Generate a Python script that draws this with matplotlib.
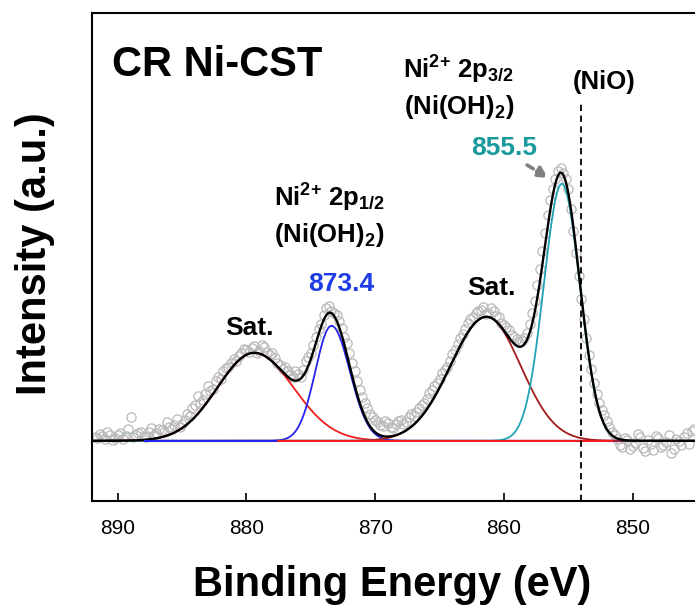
import numpy as np
import matplotlib
matplotlib.use("Agg")
import matplotlib.pyplot as plt

plt.rcParams['font.family'] = ['Liberation Sans', 'DejaVu Sans']
plt.rcParams['mathtext.fontset'] = 'custom'
plt.rcParams['mathtext.bf'] = 'Liberation Sans:bold'
plt.rcParams['mathtext.rm'] = 'Liberation Sans:bold'
plt.rcParams['mathtext.default'] = 'bf'

# ---------------- data ----------------
energy_start = 891.8   # eV, first measured point
energy_step = 0.2      # eV
raw_intensity = [
    4, 3, 7, 5, 2, 9, 6, 1, 3, 6,
    8, 2, 5, 12, 24, 4, 6, 8, 9, 5,
    4, 9, 13, 6, 8, 12, 11, 9, 19, 14,
    12, 16, 22, 14, 17, 21, 27, 25, 33, 36,
    45, 38, 41, 47, 55, 50, 52, 60, 64, 62,
    70, 73, 74, 78, 82, 80, 85, 88, 92, 91,
    89, 93, 95, 88, 90, 96, 94, 89, 86, 88,
    83, 78, 76, 72, 74, 70, 66, 64, 70, 67,
    64, 71, 80, 84, 88, 96, 104, 112, 117, 126,
    133, 135, 130, 128, 126, 120, 113, 104, 98, 88,
    78, 70, 60, 51, 44, 38, 33, 27, 24, 21,
    19, 16, 15, 20, 18, 14, 13, 17, 20, 21,
    17, 19, 24, 27, 25, 29, 33, 36, 38, 42,
    48, 51, 55, 58, 62, 68, 71, 74, 80, 87,
    91, 97, 103, 107, 112, 118, 122, 124, 128, 130,
    131, 134, 127, 128, 133, 130, 125, 124, 118, 116,
    114, 111, 106, 104, 102, 99, 100, 103, 108, 117,
    128, 140, 156, 172, 190, 208, 226, 241, 252, 262,
    270, 273, 268, 262, 252, 232, 210, 188, 165, 142,
    122, 103, 86, 72, 58, 47, 38, 31, 26, 20,
    14, 9, 6, 2, -4, -6, 3, 1, -8, -5,
    -2, 7, 4, -7, -10, 1, -3, -9, 5, 3,
    -6, -4, -1, 6, -12, -8, 2, 0, -4, 4,
    8, -3, 10, 12,
]

# fitted components (split-Gaussian parameters)
peak_labels = ["Sat. (2p1/2)", "Ni2+ 2p1/2", "Sat. (2p3/2)", "Ni2+ 2p3/2"]
peak_centers = [879.4, 873.4, 861.35, 855.5]
peak_heights = [88, 115, 124, 257]
peak_sigma_high = [2.85, 1.25, 2.8, 1.4]   # width on the high-BE side
peak_sigma_low = [3.05, 1.43, 2.65, 1.4]   # width on the low-BE side
peak_colors = ["#f01e1e", "#2424ec", "#a31a1a", "#1fa4b6"]

# background line segments (start, end, colour)
baseline_start = [888.0, 877.6]
baseline_end = [877.6, 851.5]
baseline_colors = ["#2424ec", "#f01e1e"]

nio_position = 854.0
xticks = [890, 880, 870, 860, 850]

# ---------------- figure ----------------
fig = plt.figure(figsize=(6.95, 6.10), dpi=100)
ax = fig.add_axes([0.1328, 0.1795, 0.8672, 0.800])

binding_energy = energy_start - energy_step * np.arange(len(raw_intensity))
grid = np.linspace(892.0, 845.1, 1500)


def split_gauss(x, c, h, sh, sl):
    s = np.where(x >= c, sh, sl)
    return h * np.exp(-(x - c) ** 2 / (2 * s ** 2))


ax.plot(binding_energy, raw_intensity, linestyle='none', marker='o',
        mfc='none', mec='#b8b8b8', ms=6.6, mew=0.9, zorder=1)

envelope = np.zeros_like(grid)
for c, h, sh, sl, col in zip(peak_centers, peak_heights, peak_sigma_high,
                             peak_sigma_low, peak_colors):
    comp = split_gauss(grid, c, h, sh, sl)
    envelope += comp
    ax.plot(grid, comp, color=col, lw=1.3, zorder=2)

ax.plot(grid, envelope, color='black', lw=1.7, zorder=3)

for xs, xe, col in zip(baseline_start, baseline_end, baseline_colors):
    ax.plot([xs, xe], [0, 0], color=col, lw=1.5, zorder=4, solid_capstyle='butt')

ax.vlines(nio_position, -60, 340, colors='black', linestyles=(0, (3.5, 2.5)),
          lw=1.3, zorder=5)

ax.set_xlim(891.98, 845.15)
ax.set_ylim(-59.7, 428.3)
ax.set_xticks(xticks)
ax.set_xticklabels([str(t) for t in xticks], fontsize=15)
ax.tick_params(axis='x', direction='in', length=6, width=1.2, pad=13.5)
ax.set_yticks([])
ax.spines['right'].set_visible(False)
for sp in ['left', 'bottom', 'top']:
    ax.spines[sp].set_linewidth(1.5)

# labels
ax.text(890.44, 364.8, "CR Ni-CST", fontsize=30, fontweight='bold', va='baseline')
ax.text(867.82, 362.5, r"Ni$^{2{+}}$ 2p$_{3/2}$", fontsize=18.5, fontweight='bold', va='baseline')
ax.text(867.74, 327.3, r"(Ni(OH)$_{2}$)", fontsize=18.5, fontweight='bold', va='baseline')
ax.text(854.67, 351.8, "(NiO)", fontsize=18.5, fontweight='bold', va='baseline')
ax.text(862.55, 285.8, "855.5", fontsize=19, fontweight='bold', color='#1a9a9c', va='baseline')
ax.text(877.85, 234.1, r"Ni$^{2{+}}$ 2p$_{1/2}$", fontsize=18.5, fontweight='bold', va='baseline')
ax.text(877.85, 198.8, r"(Ni(OH)$_{2}$)", fontsize=18.5, fontweight='bold', va='baseline')
ax.text(875.2, 149.8, "873.4", fontsize=19, fontweight='bold', color='#1e3ce6', va='baseline')
ax.text(881.66, 105.8, "Sat.", fontsize=19, fontweight='bold', va='baseline')
ax.text(862.84, 145.8, "Sat.", fontsize=19, fontweight='bold', va='baseline')

ax.annotate("", xy=(856.54, 262.8), xytext=(858.2, 275.8),
            arrowprops=dict(arrowstyle='-|>', color='#808080', lw=2.6,
                            linestyle=(0, (2, 1.2)), mutation_scale=16,
                            shrinkA=0, shrinkB=0), zorder=6)

fig.text(392 / 695, 1 - 585 / 610, "Binding Energy (eV)", fontsize=30,
         fontweight='bold', ha='center', va='center')
fig.text(35 / 695, 1 - 254 / 610, "Intensity (a.u.)", fontsize=30,
         fontweight='bold', ha='center', va='center', rotation=90)

fig.savefig("out.png", dpi=100)
